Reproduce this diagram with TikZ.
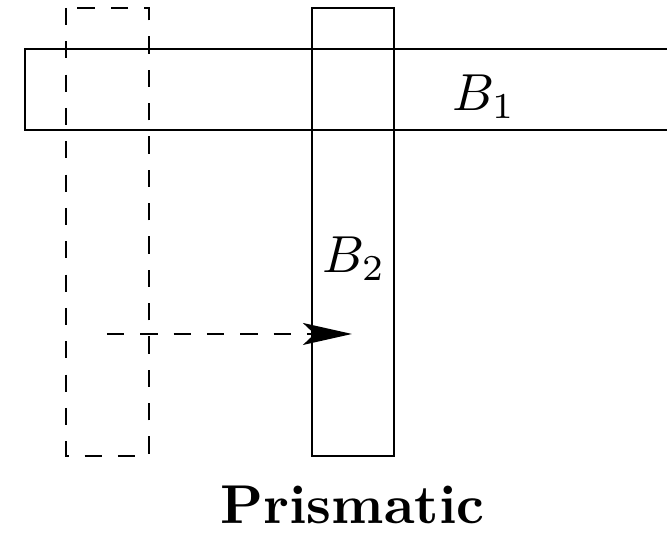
\documentclass[tikz,border=0pt]{standalone}
\usetikzlibrary{arrows.meta}
\begin{document}
\begin{tikzpicture}[x=0.192pt,y=-0.192pt,
  box/.style={draw,line width=0.55pt},
  dbox/.style={draw,line width=0.55pt,dash pattern=on 3.3pt off 3.1pt},
  lbl/.style={inner sep=0pt,font=\fontsize{10.4}{12}\selectfont}]
\clip (0,0) rectangle (667,533);
\draw[dbox] (66,8) rectangle (149,456);
\draw[box] (25,49) rectangle (700,130);
\draw[box] (312,8) rectangle (394,456);
\node[lbl] (b1) at (484,97) {$B_1$};
\node[lbl] (b2) at (354,259) {$B_2$};
\coordinate (as) at (107,334);
\coordinate (ae) at (352,334);
\draw[dbox,-{Stealth[length=9.4pt,width=4.2pt,inset=2.2pt]}] (as) -- (ae);
\node[lbl,font=\fontsize{10.5}{12}\selectfont\bfseries] (t) at (352.5,505) {Prismatic};
\end{tikzpicture}
\end{document}
